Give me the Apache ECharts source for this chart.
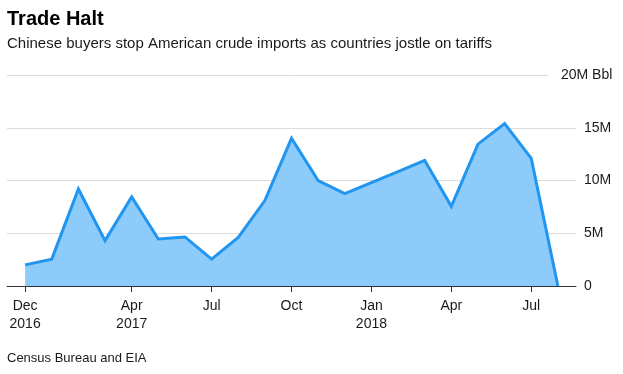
<!DOCTYPE html>
<html>
<head>
<meta charset="utf-8">
<script src="https://cdn.jsdelivr.net/npm/echarts@6/dist/echarts.min.js"></script>
<style>
html,body{margin:0;padding:0;background:#fff;}
#c{width:623px;height:374px;}
</style>
</head>
<body>
<div id="c"></div>
<script>
// Monthly US crude exports to China, Dec 2016 - Aug 2018 (million barrels)
var months = ['Dec 2016','Jan 2017','Feb 2017','Mar 2017','Apr 2017','May 2017','Jun 2017','Jul 2017','Aug 2017','Sep 2017','Oct 2017','Nov 2017','Dec 2017','Jan 2018','Feb 2018','Mar 2018','Apr 2018','May 2018','Jun 2018','Jul 2018','Aug 2018'];
var values = [2.0, 2.55, 9.2, 4.3, 8.45, 4.45, 4.65, 2.55, 4.6, 8.1, 14.0, 10.0, 8.75, 9.8, 10.85, 11.9, 7.55, 13.45, 15.4, 12.1, 0];
var tickMonths = ['Dec 2016','Apr 2017','Jul 2017','Oct 2017','Jan 2018','Apr 2018','Jul 2018'];
var tickLabels = ['Dec\n2016','Apr\n2017','Jul','Oct','Jan\n2018','Apr','Jul'];
var yTicks = [0, 5, 10, 15, 20];
var yTickLabels = ['0', '5M', '10M', '15M', '20M Bbl'];

var FONT = '"Liberation Sans", Arial, sans-serif';
var seriesData = values.map(function (v, i) { return [i, v]; });
var tickIdx = tickMonths.map(function (m) { return months.indexOf(m); });
function xLabel(v) {
  var k = tickIdx.indexOf(Math.round(v));
  return k >= 0 ? tickLabels[k] : '';
}
function yLabel(v) {
  var k = yTicks.indexOf(v);
  return k >= 0 ? yTickLabels[k] : '';
}

var chart = echarts.init(document.getElementById('c'), null, {renderer: 'canvas'});
chart.setOption({
  animation: false,
  backgroundColor: '#ffffff',
  title: [
    {text: 'Trade Halt', left: 7, top: 9, padding: 0,
     textStyle: {fontFamily: FONT, fontSize: 20, fontWeight: 'bold', color: '#000', lineHeight: 20}},
    {text: 'Chinese buyers stop American crude imports as countries jostle on tariffs', left: 7, top: 36.5, padding: 0,
     textStyle: {fontFamily: FONT, fontSize: 15, fontWeight: 'normal', color: '#1a1a1a', lineHeight: 15}},
    {text: 'Census Bureau and EIA', left: 7, top: 351.5, padding: 0,
     textStyle: {fontFamily: FONT, fontSize: 13, fontWeight: 'normal', color: '#1a1a1a', lineHeight: 13}}
  ],
  grid: {left: 7, right: 47, top: 75, bottom: 88},
  xAxis: {
    type: 'value',
    min: -0.68, max: 20.68,
    splitLine: {show: false},
    axisLine: {show: true, onZero: false, lineStyle: {color: '#333', width: 1}},
    axisTick: {show: true, customValues: tickIdx, length: 6, lineStyle: {color: '#333', width: 1}},
    axisLabel: {customValues: tickIdx, formatter: xLabel, margin: 11, fontFamily: FONT, fontSize: 14, lineHeight: 18, color: '#1a1a1a', align: 'center'}
  },
  yAxis: [
    {
      type: 'value', position: 'right', min: 0, max: 20, interval: 5,
      axisLine: {show: false}, axisTick: {show: false},
      splitLine: {show: true, lineStyle: {color: '#dcdcdc', width: 1}},
      axisLabel: {margin: 8, align: 'left', fontFamily: FONT, fontSize: 14, color: '#1a1a1a',
        formatter: function (v) { return v === 20 ? '' : yLabel(v); }}
    },
    {
      type: 'value', position: 'right', min: 0, max: 20, interval: 5, offset: -28,
      axisLine: {show: false}, axisTick: {show: false}, splitLine: {show: false},
      axisLabel: {margin: 0, align: 'left', fontFamily: FONT, fontSize: 14, color: '#1a1a1a',
        formatter: function (v) { return v === 20 ? '{w|' + yLabel(v) + '}' : ''; },
        rich: {w: {fontFamily: FONT, fontSize: 14, color: '#1a1a1a', backgroundColor: '#ffffff', padding: [2, 4, 2, 13]}}}
    }
  ],
  series: [{
    type: 'line',
    data: seriesData,
    yAxisIndex: 0,
    symbol: 'none',
    lineStyle: {color: '#2196f0', width: 3, join: 'miter'},
    areaStyle: {color: '#8dcbfa', opacity: 1},
    z: 1
  }]
});
</script>
</body>
</html>
